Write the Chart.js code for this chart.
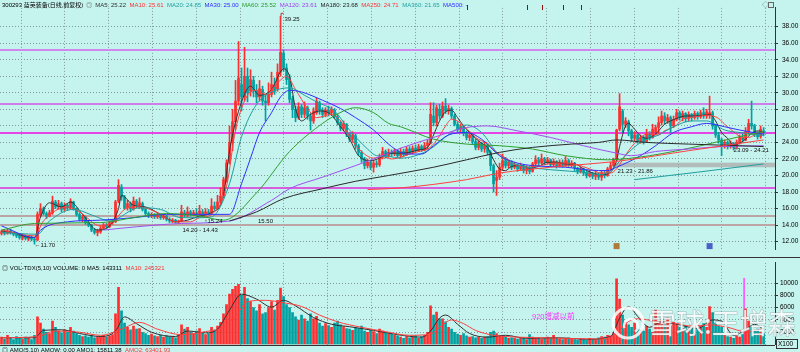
<!DOCTYPE html>
<html>
<head>
<meta charset="utf-8">
<script src="https://cdn.jsdelivr.net/npm/chart.js@4/dist/chart.umd.min.js"></script>
<style>
  html, body { margin: 0; padding: 0; background: #c5f3ee; }
  #wrap { position: relative; width: 800px; height: 352px; overflow: hidden; background: #c5f3ee; }
  canvas { position: absolute; left: 0; }
  #priceCanvas { top: 0; }
  #volCanvas { top: 257px; }
</style>
</head>
<body>
<div id="wrap">
  <canvas id="priceCanvas" width="800" height="257"></canvas>
  <canvas id="volCanvas" width="800" height="95"></canvas>
</div>
<script>
// ---- daily candles ----
const opens = [
  13.0,13.2,13.0,13.3,13.1,12.9,12.8,12.4,12.6,12.3, // 0
  12.5,12.3,12.2,15.2,15.9,15.4,15.1,15.5,16.8,16.2, // 10
  16.6,15.9,16.4,16.1,16.8,16.0,15.3,14.7,15.0,14.3, // 20
  14.0,13.4,13.1,13.2,13.6,14.0,13.8,14.3,14.4,16.9, // 30
  18.6,17.4,16.1,16.6,16.0,16.9,16.4,16.6,15.9,15.4, // 40
  15.1,15.3,15.0,15.2,14.9,15.1,14.7,14.5,14.6,14.4, // 50
  14.5,15.5,15.2,15.6,15.3,15.5,15.3,15.6,15.4,15.6, // 60
  15.5,16.3,16.0,16.8,17.5,19.4,21.6,24.0,26.5,29.0, // 70
  31.0,29.5,32.0,30.2,31.5,30.2,29.5,30.4,29.0,28.8, // 80
  29.8,31.0,30.5,32.5,34.8,33.0,31.8,29.3,28.0,27.0, // 90
  28.3,27.4,28.2,27.2,26.6,27.6,28.8,27.9,27.4,27.9, // 100
  27.6,27.9,27.1,26.4,25.7,26.2,25.0,24.4,24.8,23.6, // 110
  22.8,22.0,21.2,21.6,21.0,21.5,21.3,22.2,22.9,22.4, // 120
  22.8,22.6,23.0,22.4,22.9,22.5,23.2,22.8,23.3,23.0, // 130
  23.5,23.1,23.6,23.9,27.2,26.4,28.0,27.2,28.4,27.8, // 140
  28.1,27.2,26.2,25.6,25.9,25.1,24.6,24.9,24.1,23.4, // 150
  23.9,23.2,23.6,22.8,21.2,19.4,19.8,21.0,21.8,21.2, // 160
  21.6,21.0,21.3,20.8,21.2,20.6,20.9,20.5,21.4,21.9, // 170
  21.5,22.0,21.6,21.9,21.3,21.7,21.1,21.6,21.2,21.8, // 180
  21.3,21.5,20.9,20.5,20.8,20.3,20.0,20.3,19.9,20.2, // 190
  19.8,20.3,20.0,20.8,21.2,21.9,25.6,27.8,26.2,26.5, // 200
  25.4,24.5,24.9,24.2,24.6,24.1,25.0,24.6,25.2,25.8, // 210
  26.4,27.2,26.6,27.0,26.0,26.8,27.6,27.0,27.5,26.9, // 220
  27.4,27.0,27.5,27.1,27.6,27.2,27.3,27.6,26.0,24.9, // 230
  24.3,23.6,24.0,23.5,23.9,23.4,24.0,24.6,24.3,25.3, // 240
  26.3,26.0,25.0,24.7,25.4                           // 250
];
const closes = [
  13.2,13.0,13.3,13.1,12.9,12.7,12.5,12.6,12.4,12.5,
  12.3,12.2,15.3,16.0,15.4,15.1,15.5,16.9,16.2,16.6,
  15.9,16.4,16.1,16.9,16.0,15.3,14.7,15.0,14.3,14.0,
  13.4,13.1,13.3,13.6,14.0,13.8,14.3,14.4,16.8,18.8,
  17.4,16.1,16.6,16.0,16.9,16.4,16.7,15.9,15.4,15.1,
  15.3,15.0,15.2,14.9,15.1,14.7,14.5,14.6,14.4,14.43,
  15.6,15.2,15.6,15.3,15.5,15.3,15.7,15.4,15.6,15.4,
  16.3,16.0,16.8,17.5,19.5,21.5,24.0,26.5,29.0,31.8,
  29.5,32.0,30.0,31.6,30.2,29.5,30.5,29.0,28.8,29.8,
  31.0,30.2,32.5,34.9,33.0,31.6,29.2,28.0,27.0,28.3,
  27.4,28.2,27.2,26.6,27.8,29.0,27.9,27.4,27.9,27.6,
  28.0,27.1,26.4,25.7,26.2,25.0,24.4,24.9,23.6,22.8,
  22.0,21.2,21.6,21.0,21.5,21.3,22.2,22.9,22.4,22.8,
  22.6,23.0,22.4,22.9,22.5,23.2,22.8,23.3,23.0,23.5,
  23.1,23.6,23.9,27.4,26.4,28.2,27.2,28.4,27.8,28.1,
  27.2,26.2,25.6,25.9,25.1,24.6,24.9,24.1,23.4,23.9,
  23.2,23.6,22.8,21.2,19.0,19.8,21.0,21.8,21.2,21.6,
  21.0,21.3,20.8,21.2,20.6,20.9,20.5,21.4,21.9,21.5,
  22.0,21.6,21.9,21.3,21.7,21.1,21.6,21.2,21.8,21.3,
  21.5,20.9,20.5,20.8,20.3,20.0,20.3,19.9,20.2,19.8,
  20.3,20.0,20.8,21.2,21.9,25.5,28.3,26.2,26.6,25.4,
  24.5,24.9,24.2,24.6,24.1,25.0,24.6,25.6,25.8,26.4,
  27.2,26.6,27.0,26.0,26.8,27.6,27.0,27.5,26.9,27.4,
  27.0,27.5,27.1,27.6,27.2,27.7,27.6,26.0,24.9,24.3,
  23.6,24.0,23.5,23.9,23.4,24.0,24.6,24.3,25.3,26.3,
  26.0,25.0,24.7,25.6,25.2
];
const highs = [
  13.4,13.4,13.5,13.5,13.2,13.1,13.0,12.8,12.8,12.7,
  12.7,12.5,15.6,16.6,16.2,15.6,15.8,17.5,17.0,17.0,
  16.8,16.7,16.6,17.2,16.9,16.1,15.5,15.2,15.1,14.5,
  14.1,13.6,13.5,13.9,14.2,14.2,14.5,14.7,17.0,19.5,
  18.9,17.6,17.0,16.8,17.4,17.1,17.3,16.8,16.0,15.6,
  15.5,15.4,15.4,15.3,15.3,15.2,14.9,14.8,14.7,14.6,
  16.4,15.8,16.2,15.8,15.8,16.0,16.4,15.9,16.0,15.9,
  17.2,16.8,17.6,18.5,19.8,21.9,26.0,28.0,31.5,36.2,
  33.0,35.5,33.0,32.8,32.0,31.0,31.5,30.8,29.8,31.2,
  32.5,31.8,33.5,39.25,35.2,33.5,32.2,29.6,28.4,28.8,
  28.6,28.9,28.4,27.5,28.2,29.4,29.0,28.2,28.2,28.4,
  28.3,28.1,27.3,26.6,26.6,26.3,25.2,25.3,25.0,23.8,
  23.0,22.2,22.0,21.8,21.8,21.8,22.6,23.4,23.1,23.2,
  23.1,23.2,23.1,23.3,23.2,23.5,23.5,23.6,23.7,23.8,
  23.7,24.0,24.3,28.8,28.8,28.5,28.6,28.9,29.3,28.5,
  28.3,27.4,26.5,26.2,26.1,25.4,25.3,25.0,24.4,24.2,
  24.0,24.0,23.8,23.0,21.4,20.6,21.5,22.6,22.2,21.9,
  21.8,21.6,21.4,21.5,21.3,21.2,21.1,21.6,22.4,22.2,
  22.6,22.2,22.2,22.0,22.0,21.8,21.9,21.9,22.3,22.0,
  21.8,21.6,21.0,21.0,20.9,20.5,20.6,20.4,20.5,20.3,
  20.6,20.5,21.0,21.6,22.1,25.6,29.9,28.0,27.0,26.7,
  25.6,25.3,25.0,24.9,24.8,25.6,25.3,26.2,26.1,27.1,
  27.8,27.6,27.4,27.2,27.2,28.0,27.8,27.8,27.6,27.7,
  27.5,27.8,27.7,27.9,28.2,28.0,29.6,27.8,26.2,25.2,
  24.5,24.3,24.2,24.2,24.0,24.3,24.9,25.0,25.8,26.8,
  29.0,26.2,25.3,26.0,25.8
];
const lows = [
  12.8,12.8,12.9,12.9,12.7,12.5,12.3,12.2,12.2,12.1,
  12.1,11.7,12.1,15.0,15.2,14.8,15.0,15.3,16.0,15.9,
  15.6,15.7,15.8,15.9,15.8,15.1,14.5,14.4,14.1,13.8,
  13.2,12.9,12.7,13.0,13.5,13.6,13.7,14.1,14.3,16.7,
  17.0,15.9,15.8,15.6,15.8,16.1,16.0,15.7,15.2,14.9,
  14.9,14.8,14.8,14.7,14.7,14.5,14.3,14.3,14.25,14.2,
  14.4,15.0,15.0,15.1,15.2,15.1,15.2,15.24,15.3,15.3,
  15.4,15.8,15.9,16.6,17.3,19.2,21.4,23.0,25.5,28.5,
  27.8,29.0,28.9,29.6,29.5,28.8,29.0,28.5,26.6,28.5,
  29.5,29.8,30.2,32.0,32.6,31.0,28.8,27.0,26.5,26.8,
  27.0,27.0,26.8,25.5,26.3,27.4,27.4,27.0,27.1,27.2,
  27.3,26.9,26.1,25.4,25.4,24.7,24.1,24.0,23.2,22.4,
  21.6,20.8,20.9,20.7,20.4,21.0,21.1,22.0,22.1,22.2,
  22.3,22.4,22.2,22.1,22.3,22.4,22.6,22.6,22.8,22.9,
  22.9,23.0,23.2,23.8,26.0,26.0,26.8,27.0,27.5,27.4,
  26.9,26.0,25.3,25.2,24.8,24.3,24.2,23.8,23.1,23.1,
  22.9,22.8,22.5,20.6,18.0,17.6,19.5,20.7,20.9,20.9,
  20.7,20.8,20.5,20.6,20.3,20.2,20.2,20.4,21.2,21.2,
  21.4,21.3,21.4,21.1,21.1,20.9,21.0,21.0,21.1,21.1,
  21.0,20.6,20.2,20.3,20.0,19.7,19.8,19.6,19.5,19.5,
  19.4,19.7,19.9,20.6,21.0,21.8,25.4,25.2,25.8,24.8,
  24.1,24.2,23.9,23.9,23.8,24.0,24.3,24.5,24.9,25.1,
  26.1,26.2,26.3,25.2,25.8,26.6,26.7,26.6,26.5,26.6,
  26.6,26.8,26.8,26.9,26.9,26.9,26.9,25.6,24.6,23.9,
  22.4,23.3,23.2,23.3,23.09,23.3,23.8,24.0,24.2,25.1,
  25.6,24.7,24.4,24.5,24.8
];
// volume (x100)
const volumes = [
  1200,900,1500,1100,800,1300,1000,900,1200,1000,
  800,1500,4500,3500,2500,2000,1800,3800,2800,2200,
  1900,2400,2000,2800,2200,1800,1500,1300,1400,1200,
  1500,1100,1200,1300,1500,1200,1400,1600,5000,9300,
  5500,3500,2800,2400,3000,2500,2600,2000,1800,1500,
  1700,1400,1300,1500,1200,1400,1300,1200,1100,1500,
  3200,2500,2800,2000,1800,2200,2600,2000,1600,1800,
  2800,2400,3000,3600,5000,6500,8200,9000,9500,9800,
  8000,9300,7500,7000,6000,5500,6500,5000,5200,6000,
  7000,5600,7200,9200,7800,6500,6000,5200,4500,4000,
  4800,4200,3800,5000,4200,4600,3500,3000,3400,3100,
  2800,3500,3800,3200,2900,2600,2500,2300,2800,2600,
  3000,2200,2000,2400,2100,1800,2500,2200,1900,1800,
  1700,1500,1400,1200,1000,1300,1100,1200,1400,1000,
  1300,1500,2000,6300,4800,5300,4200,4200,3700,2800,
  2500,2000,1700,1500,1800,1400,1200,1300,1100,1200,
  1000,1200,1300,2000,2200,1800,1400,1300,1200,1000,
  1100,1000,900,1100,1000,800,1600,1200,1000,1100,
  900,1000,1200,1100,1500,1000,900,800,1000,1100,
  900,800,700,900,800,700,1000,900,800,1100,
  1300,1200,1500,1400,1800,10700,7400,4800,3600,3200,
  2800,3500,2600,2400,2200,3000,2500,2000,5600,3500,
  3800,3200,4300,3000,3600,3200,2800,2600,3000,2500,
  2700,2400,2600,3000,3400,2800,6200,5200,3500,3000,
  2800,1500,1300,1200,1000,1400,1200,1600,5800,3800,
  2800,2200,2500,2000,1800
];
// the magenta marker bar in the volume pane [index, value]
const volMarker = [[247.5, 10800]];

// ---- moving average curves as [index, value] ----
const ma5Pts = [[0,13.3],[4,13.1],[8,12.6],[11,12.5],[13,15.0],[16,16.7],[20,16.2],[23,16.8],[27,15.3],[32,13.4],[36,13.9],[39,16.0],[40,17.6],[44,16.4],[48,16.2],[53,15.3],[58,14.4],[62,14.6],[66,15.1],[70,15.5],[74,17.6],[76,23.0],[80,28.9],[83,30.8],[86,29.7],[90,30.4],[94,32.9],[96,32.0],[98,28.1],[100,26.6],[103,27.4],[106,27.8],[109,27.6],[113,25.9],[116,24.4],[119,22.4],[123,21.8],[126,22.1],[129,22.7],[133,22.7],[136,22.8],[139,23.1],[142,23.4],[144,24.9],[146,26.6],[148,27.7],[150,27.9],[152,27.0],[154,26.0],[156,25.2],[158,24.5],[160,23.9],[162,23.4],[164,21.9],[166,20.8],[168,20.6],[170,21.1],[173,21.2],[176,20.9],[179,21.1],[182,21.6],[185,21.6],[188,21.4],[191,21.4],[194,20.8],[197,20.3],[200,20.1],[203,20.4],[205,21.8],[206,23.5],[208,26.0],[209,26.3],[211,25.6],[213,24.8],[215,24.5],[217,24.7],[219,25.4],[221,26.2],[223,26.6],[225,26.9],[228,27.2],[231,27.2],[234,27.3],[236,27.4],[238,26.6],[240,25.2],[242,24.5],[244,23.7],[246,23.9],[248,24.4],[250,25.1],[252,25.4],[254,25.2]];
const ma10Pts = [[0,13.4],[11,12.7],[14,14.5],[22,16.2],[26,15.6],[33,13.9],[37,14.4],[42,16.1],[46,16.2],[52,15.5],[58,14.4],[63,14.4],[66,14.9],[70,15.3],[75,18.7],[78,25.5],[82,29.7],[85,30.3],[88,29.8],[92,31.2],[95,32.0],[98,30.4],[102,28.1],[105,27.0],[110,27.4],[113,26.6],[116,24.7],[120,22.9],[124,22.1],[127,22.3],[130,22.0],[133,22.2],[136,22.6],[139,22.9],[142,23.2],[144,23.8],[146,24.8],[148,26.0],[150,26.8],[152,26.6],[154,26.0],[156,25.3],[158,24.6],[160,24.2],[162,23.9],[164,23.1],[166,22.6],[168,22.1],[170,21.5],[172,21.2],[175,21.0],[178,21.1],[181,21.3],[184,21.5],[188,21.5],[192,21.3],[196,20.8],[200,20.3],[203,20.3],[205,20.8],[207,21.9],[209,23.0],[211,23.9],[213,24.6],[215,25.0],[217,25.0],[219,24.9],[221,25.4],[223,25.7],[225,26.1],[227,26.8],[229,27.0],[231,27.1],[233,27.2],[235,27.3],[237,27.2],[239,26.9],[241,26.2],[243,25.6],[245,25.0],[247,24.6],[249,24.6],[251,24.9],[254,25.3]];
const ma20Pts = [[0,13.1],[12,12.9],[16,14.5],[24,15.9],[31,15.1],[36,14.5],[46,16.1],[53,15.9],[60,14.9],[66,14.9],[70,15.0],[76,19.0],[80,24.7],[85,28.6],[90,30.1],[96,30.6],[101,29.7],[105,28.9],[111,27.8],[116,25.5],[122,23.2],[125,22.4],[129,22.3],[133,22.1],[142,23.0],[150,25.2],[155,26.1],[160,25.2],[166,22.4],[172,21.3],[183,20.7],[194,20.4],[200,20.1],[203,20.6],[207,22.1],[213,24.0],[219,24.9],[224,25.9],[230,26.6],[235,26.6],[241,25.5],[246,25.2],[254,24.85]];
const ma30Pts = [[0,13.9],[11,12.5],[13,13.4],[22,14.4],[33,14.6],[44,14.9],[55,15.3],[66,15.3],[76,15.3],[80,19.0],[83,22.1],[86,25.2],[90,27.6],[93,29.5],[96,30.3],[100,30.1],[107,29.1],[113,28.1],[118,27.0],[124,25.5],[130,23.5],[135,22.6],[140,22.6],[144,23.6],[149,24.9],[155,25.2],[160,24.4],[166,22.4],[172,21.5],[177,21.2],[188,21.0],[199,20.6],[202,20.6],[205,21.0],[213,22.4],[218,23.6],[224,25.2],[230,25.9],[235,26.3],[241,25.9],[246,25.5],[254,25.0]];
const ma60Pts = [[0,13.4],[11,14.2],[33,14.3],[44,14.9],[55,15.4],[66,15.1],[74,14.6],[85,17.9],[96,22.9],[107,26.3],[114,27.8],[118,28.2],[124,27.6],[129,26.3],[133,25.9],[144,24.4],[155,23.8],[166,23.6],[177,23.2],[188,22.4],[202,21.9],[216,22.4],[233,23.6],[246,24.7],[254,25.3]];
const ma120Pts = [[34,13.4],[45,13.8],[60,14.2],[76,14.5],[90,17.0],[96,18.4],[107,19.8],[118,21.2],[129,22.7],[133,23.3],[144,24.6],[155,25.8],[162,26.0],[172,25.4],[183,24.6],[194,23.6],[205,22.7],[210,22.4],[218,22.9],[229,23.2],[240,23.5],[254,23.6]];
const ma180Pts = [[76,14.5],[85,15.6],[94,17.2],[107,18.4],[118,19.3],[129,20.0],[144,21.0],[155,21.9],[166,22.8],[177,23.4],[190,23.8],[199,24.0],[205,24.3],[215,24.0],[229,23.8],[246,23.6],[254,23.5]];
const ma250Pts = [[122,18.3],[133,18.5],[155,19.5],[166,20.3],[183,21.0],[199,21.5],[207,21.8],[229,23.0],[254,24.3]];
const ma360Pts = [[211,19.5],[232,20.4],[254,21.4]];

const volMa5Pts = [[0,1100],[11,1100],[14,2300],[20,2400],[26,1800],[33,1300],[38,2200],[41,4500],[45,3400],[50,2000],[58,1300],[62,2200],[68,1900],[72,2500],[76,5600],[80,8200],[85,7400],[90,6100],[94,7200],[98,6300],[104,4400],[110,3300],[116,2900],[124,2300],[132,1600],[140,1200],[143,2200],[146,4300],[148,4800],[152,3300],[156,1800],[162,1200],[168,1500],[175,1000],[185,1100],[195,850],[203,1300],[206,4300],[209,6200],[212,4600],[216,2800],[220,3700],[226,3200],[232,2600],[237,4000],[240,3800],[244,1500],[248,2400],[251,3300],[254,2500]];
const volMa10Pts = [[0,1100],[12,1300],[18,2200],[26,2000],[33,1500],[40,2500],[46,3600],[52,2500],[60,1600],[68,2100],[74,2800],[78,4600],[82,7000],[88,7200],[94,6800],[100,6200],[106,4800],[112,3700],[120,2800],[128,2100],[136,1500],[143,1700],[146,2800],[150,4000],[154,3400],[158,2300],[164,1500],[172,1200],[185,1050],[198,900],[205,1700],[208,3400],[212,4200],[218,3800],[224,3500],[230,3000],[236,3200],[242,2800],[248,2100],[254,2600]];

// ---- axis ticks and reference lines ----
const priceTicks = [12,14,16,18,20,22,24,26,28,30,32,34,36,38];
const volTicks = [2000,4000,6000,8000,10000];
const gridX = [6.5,21.1,35.7,50.3,64.9,79.5,94.1,108.7,123.3,137.9,152.5,167.1,181.7,196.3,210.9,225.5,240.1,254.7];
const levelValues = [35.16, 28.7, 25.17, 18.48, 15.07, 14.05];
const levelColors = ['#cf86ee', '#cf7de8', '#e545e5', '#d85ee0', '#bba5a5', '#bba5a5'];
const bandLow = 21.0, bandHigh = 21.55, bandFrom = 204.5;
const eventMarks = [155, 175, 180, 187, 193];

const stockTitle = '300293 蓝英装备(日线,前复权)';
const maNames = ['MA5','MA10','MA20','MA30','MA60','MA120','MA180','MA250','MA360','MA500'];
const maValues = ['25.22','25.61','24.85','25.00','25.52','23.61','23.68','24.71','21.65','-'];
const maColors = ['#333333','#ff3030','#1f9f9f','#2a2aff','#2a9a2a','#a040f0','#222222','#ff3030','#1f9f9f','#2a2aff'];

const priceNotes = [
  { text: '←11.70', i: 11, p: 11.7, dx: 0, dy: 1.5 },
  { text: '39.25', i: 93, p: 39.25, dx: 4, dy: 3 },
  { text: '14.20 - 14.43', i: 59, p: 14.2, dx: 4, dy: 7 },
  { text: '↑15.24', i: 67, p: 15.24, dx: 2, dy: 6.5 },
  { text: '15.50', i: 85.5, p: 15.5, dx: 0, dy: 9 },
  { text: '21.23 - 21.86', i: 205, p: 21.23, dx: 1, dy: 6 },
  { text: '23.09 - 24.21', i: 244, p: 23.09, dx: 0, dy: 0 },
];

const BG = '#c5f3ee';
const UP = '#ff2e2e', DOWN = '#00a0a0';
const FONT = '"Liberation Sans", "Noto Sans CJK SC", sans-serif';
const GRID = '#7f9a9a';

const idx = closes.map((_, i) => i);
const candleColor = idx.map((i) => (closes[i] >= opens[i] ? UP : DOWN));

function txt(ctx, s, x, y, color, size, align, base) {
  ctx.fillStyle = color;
  ctx.font = size + 'px ' + FONT;
  ctx.textAlign = align || 'left';
  ctx.textBaseline = base || 'middle';
  ctx.fillText(s, x, y);
  return ctx.measureText(s).width;
}

function curve(points, color) {
  return {
    type: 'line',
    data: points.map(([x, y]) => ({ x, y })),
    borderColor: color,
    borderWidth: 1,
    pointRadius: 0,
    cubicInterpolationMode: 'monotone',
    order: 1,
  };
}

function xAxis() {
  return {
    type: 'linear',
    min: -0.5,
    max: 257.8,
    offset: false,
    grid: { offset: false, color: GRID, drawTicks: false },
    border: { display: false, dash: [1, 2] },
    ticks: { display: false },
    afterBuildTicks: (s) => { s.ticks = gridX.map((v) => ({ value: v })); },
    afterFit: (s) => { s.height = 0; },
  };
}

const fillBg = {
  id: 'fillBg',
  beforeDraw(chart) {
    const c = chart.ctx;
    c.save();
    c.fillStyle = BG;
    c.fillRect(0, 0, chart.width, chart.height);
    c.restore();
  },
};

// PRICE PANE
const priceOverlay = {
  id: 'priceOverlay',
  beforeDatasetsDraw(chart) {
    const { ctx, chartArea, scales: { x, y } } = chart;
    ctx.save();
    // grey zone
    ctx.fillStyle = 'rgba(170,170,170,0.75)';
    const bx = x.getPixelForValue(bandFrom);
    ctx.fillRect(bx, y.getPixelForValue(bandHigh), chartArea.right - bx, y.getPixelForValue(bandLow) - y.getPixelForValue(bandHigh));
    // horizontal levels
    levelValues.forEach((v, k) => {
      const py = Math.round(y.getPixelForValue(v));
      ctx.strokeStyle = levelColors[k];
      ctx.lineWidth = 2;
      ctx.beginPath();
      ctx.moveTo(chartArea.left, py);
      ctx.lineTo(chartArea.right, py);
      ctx.stroke();
    });
    ctx.restore();
  },
  afterDraw(chart) {
    const { ctx, chartArea, scales: { x, y } } = chart;
    ctx.save();
    // title row
    let lx = 2;
    lx += txt(ctx, stockTitle, lx, 5, '#000', 6) + 3;
    lx += txt(ctx, '◎', lx, 5, '#555', 6) + 3;
    maNames.forEach((n, k) => {
      lx += txt(ctx, n + ': ' + maValues[k], lx, 5, maColors[k], 6) + 3.5;
    });
    // price notes
    priceNotes.forEach((n) => {
      txt(ctx, n.text, x.getPixelForValue(n.i) + n.dx, y.getPixelForValue(n.p) + n.dy, '#111', 6);
    });
    // little arrow at the top high
    const hx = x.getPixelForValue(93), hy = y.getPixelForValue(39.25);
    ctx.strokeStyle = '#c03030';
    ctx.lineWidth = 1;
    ctx.beginPath();
    ctx.moveTo(hx + 0.5, hy);
    ctx.lineTo(hx + 0.5, hy - 3);
    ctx.lineTo(hx + 3, hy - 3);
    ctx.stroke();
    // event marks along the top
    ctx.strokeStyle = '#8a1010';
    eventMarks.forEach((i) => {
      const px = Math.round(x.getPixelForValue(i)) + 0.5;
      ctx.beginPath();
      ctx.moveTo(px, 5);
      ctx.lineTo(px, 10);
      ctx.stroke();
    });
    // small icons at the bottom
    ctx.fillStyle = '#b07a3a';
    ctx.fillRect(x.getPixelForValue(205) - 3, chartArea.bottom - 6, 6, 6);
    ctx.fillStyle = '#4a60c8';
    ctx.fillRect(x.getPixelForValue(236) - 3, chartArea.bottom - 6, 6, 6);
    // top-right icons
    txt(ctx, '◇', 762, 5, '#666', 7);
    ctx.strokeStyle = '#666';
    ctx.strokeRect(768.5, 2.5, 5, 5);
    ctx.restore();
  },
};

new Chart(document.getElementById('priceCanvas'), {
  type: 'bar',
  data: {
    datasets: [
      curve(ma360Pts, '#1f9f9f'),
      curve(ma250Pts, '#ff4040'),
      curve(ma180Pts, '#2a2a2a'),
      curve(ma120Pts, '#a050f0'),
      curve(ma60Pts, '#2f9f2f'),
      curve(ma30Pts, '#3030ff'),
      curve(ma20Pts, '#1f9f9f'),
      curve(ma10Pts, '#ff4040'),
      curve(ma5Pts, '#333333'),
      {
        data: idx.map((i) => ({ x: i, y: [lows[i], highs[i]] })),
        backgroundColor: candleColor,
        barThickness: 1,
        grouped: false,
        minBarLength: 1,
        order: 3,
      },
      {
        data: idx.map((i) => ({ x: i, y: [opens[i], closes[i]] })),
        backgroundColor: candleColor,
        barThickness: 2,
        grouped: false,
        minBarLength: 1,
        order: 2,
      },
    ],
  },
  options: {
    responsive: false,
    animation: false,
    events: [],
    layout: { padding: 0 },
    plugins: { legend: { display: false }, tooltip: { enabled: false } },
    scales: {
      x: xAxis(),
      y: {
        position: 'right',
        min: 11.1,
        max: 40.27,
        grid: { color: GRID, tickColor: '#333', tickLength: 3, tickBorderDash: [] },
        border: { display: true, color: '#333', width: 1, dash: [1, 2] },
        ticks: { color: '#000', padding: 4, font: { size: 6.5, family: FONT }, callback: (v) => Number(v).toFixed(2) },
        afterBuildTicks: (s) => { s.ticks = priceTicks.map((v) => ({ value: v })); },
        afterFit: (s) => { s.width = 25; },
      },
    },
  },
  plugins: [fillBg, priceOverlay],
});

// VOLUME PANE
const volOverlay = {
  id: 'volOverlay',
  afterDraw(chart) {
    const { ctx } = chart;
    ctx.save();
    // separators
    ctx.strokeStyle = '#333';
    ctx.lineWidth = 1;
    ctx.beginPath();
    ctx.moveTo(0, 0.5);
    ctx.lineTo(800, 0.5);
    ctx.moveTo(0, 88.5);
    ctx.lineTo(775, 88.5);
    ctx.stroke();
    ctx.fillStyle = BG;
    ctx.fillRect(0, 89, 775, 6);
    // legend
    let lx = 2;
    lx += txt(ctx, '◎ VOL-TDX(5,10) VOLUME: 0 MA5: 143311', lx, 11, '#000', 6) + 3.5;
    txt(ctx, 'MA10: 245321', lx, 11, '#ff3030', 6);
    lx = 2;
    lx += txt(ctx, '◎ AMO(5,10) AMOW: 0.00 AMO1: 15811.38', lx, 90, '#000', 6, 'left', 'top') + 3.5;
    txt(ctx, 'AMO2: 63401.93', lx, 90, '#ff3030', 6, 'left', 'top');
    // unit box
    ctx.strokeStyle = '#333';
    ctx.strokeRect(776.5, 82.5, 21, 9);
    txt(ctx, 'X100', 778, 87.5, '#000', 6.5);
    // comment text
    txt(ctx, '920增减以前', 532, 60, '#ff33ff', 7.5);
    // watermark
    ctx.globalAlpha = 0.85;
    ctx.strokeStyle = '#ffffff';
    ctx.lineWidth = 3;
    ctx.beginPath();
    ctx.arc(628, 66, 15, 0, Math.PI * 2);
    ctx.stroke();
    ctx.lineWidth = 2.5;
    ctx.beginPath();
    ctx.arc(631, 69, 7, Math.PI * 0.9, Math.PI * 2.3);
    ctx.stroke();
    ctx.font = '28px "Noto Sans CJK SC", sans-serif';
    ctx.textAlign = 'left';
    ctx.textBaseline = 'middle';
    ctx.lineWidth = 1;
    ctx.strokeStyle = 'rgba(120,140,140,0.6)';
    ctx.strokeText('雪球:王增森', 648, 66);
    ctx.fillStyle = '#ffffff';
    ctx.fillText('雪球:王增森', 648, 66);
    ctx.restore();
  },
};

new Chart(document.getElementById('volCanvas'), {
  type: 'bar',
  data: {
    datasets: [
      curve(volMa10Pts, '#ff4040'),
      curve(volMa5Pts, '#303030'),
      {
        data: volMarker.map(([x, y]) => ({ x, y })),
        backgroundColor: '#ff55ff',
        barThickness: 1,
        grouped: false,
        order: 3,
      },
      {
        data: idx.map((i) => ({ x: i, y: volumes[i] })),
        backgroundColor: candleColor,
        barThickness: 2,
        grouped: false,
        order: 2,
      },
    ],
  },
  options: {
    responsive: false,
    animation: false,
    events: [],
    layout: { padding: { top: 1, bottom: 7.5, left: 0, right: 0 } },
    plugins: { legend: { display: false }, tooltip: { enabled: false } },
    scales: {
      x: xAxis(),
      y: {
        position: 'right',
        min: 0,
        max: 13300,
        grid: { color: GRID, tickColor: '#333', tickLength: 3, tickBorderDash: [] },
        border: { display: true, color: '#333', width: 1, dash: [1, 2] },
        ticks: { color: '#000', padding: 2, font: { size: 6.5, family: FONT }, callback: (v) => String(v) },
        afterBuildTicks: (s) => { s.ticks = volTicks.map((v) => ({ value: v })); },
        afterFit: (s) => { s.width = 25; },
      },
    },
  },
  plugins: [fillBg, volOverlay],
});
</script>
</body>
</html>
